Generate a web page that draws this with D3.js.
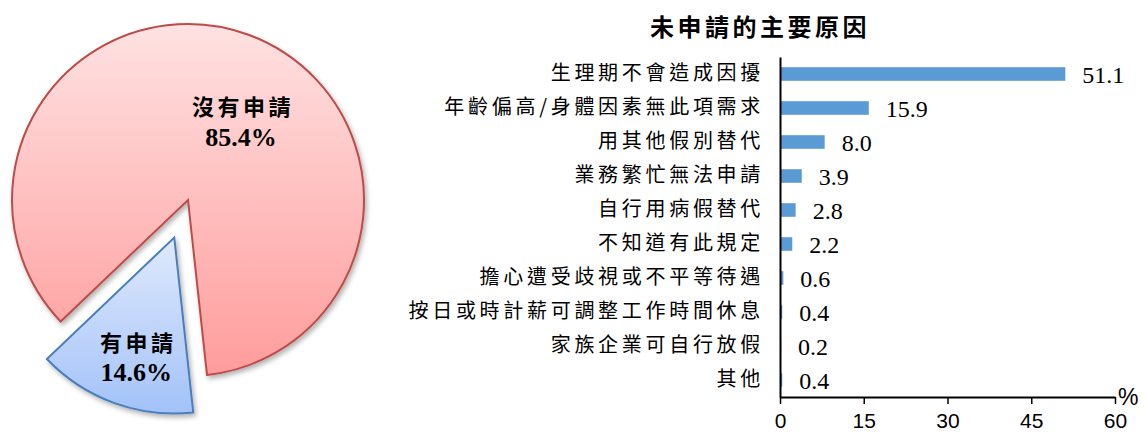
<!DOCTYPE html>
<html>
<head>
<meta charset="utf-8">
<script src="https://cdn.jsdelivr.net/npm/d3@7"></script>
<style>
  body { margin: 0; background: #fff; }
  svg { display: block; }
</style>
</head>
<body>
<div id="chart"></div>
<script>
// pie data
const pieLabels = ["有申請", "沒有申請"];
const pieValues = [14.6, 85.4];

// bar data: reasons for not applying
const reasons = [
    "生理期不會造成因擾",
    "年齡偏高/身體因素無此項需求",
    "用其他假別替代",
    "業務繁忙無法申請",
    "自行用病假替代",
    "不知道有此規定",
    "擔心遭受歧視或不平等待遇",
    "按日或時計薪可調整工作時間休息",
    "家族企業可自行放假",
    "其他"
];
const reasonValues = [51.1, 15.9, 8.0, 3.9, 2.8, 2.2, 0.6, 0.4, 0.2, 0.4];
const xTicks = [0, 15, 30, 45, 60];

const W = 1147, H = 437;
const cjk = "'Noto Sans CJK TC', 'Noto Sans CJK SC', sans-serif";
const serif = "'Liberation Serif', 'DejaVu Serif', serif";
const sans = "'Liberation Sans', Arial, sans-serif";

const svg = d3.select("#chart").append("svg")
    .attr("width", W).attr("height", H);

const defs = svg.append("defs");

function addGradient(id, top, bottom) {
    const g = defs.append("linearGradient").attr("id", id)
        .attr("x1", 0).attr("y1", 0).attr("x2", 0).attr("y2", 1);
    g.append("stop").attr("offset", "0%").attr("stop-color", top);
    g.append("stop").attr("offset", "100%").attr("stop-color", bottom);
}
addGradient("gradBlue", "#dfe9fc", "#a3c2f9");
addGradient("gradRed", "#ffe2e2", "#ff9c9c");

defs.append("filter").attr("id", "shadow")
    .attr("x", "-20%").attr("y", "-20%").attr("width", "140%").attr("height", "140%")
    .append("feDropShadow")
    .attr("dx", 2).attr("dy", 3).attr("stdDeviation", 2.5)
    .attr("flood-color", "#000").attr("flood-opacity", 0.3);

/* ---------- pie ---------- */
const pieCenter = {x: 188, y: 200};
const radius = 176;
const explode = [40, 0];
const startDeg = 173.8;

const pie = d3.pie().sort(null)
    .startAngle(startDeg * Math.PI / 180)
    .endAngle(startDeg * Math.PI / 180 + 2 * Math.PI);
const arc = d3.arc().innerRadius(0).outerRadius(radius);

const fills = ["url(#gradBlue)", "url(#gradRed)"];
const strokes = ["#4a7ebb", "#be4b48"];

// label placement: angle (deg, clockwise from top) and distance from slice vertex
const labelPlace = [{a: 197.7, r: 125}, {a: 33.9, r: 95}];

const arcs = pie(pieValues);
const pieG = svg.append("g").attr("transform", `translate(${pieCenter.x},${pieCenter.y})`);

const slices = pieG.selectAll("g.slice").data(arcs).enter().append("g")
    .attr("class", "slice")
    .attr("transform", (d, i) => {
        const mid = (d.startAngle + d.endAngle) / 2;
        const dx = Math.sin(mid) * explode[i], dy = -Math.cos(mid) * explode[i];
        return `translate(${dx},${dy})`;
    });

slices.append("path")
    .attr("d", arc)
    .attr("fill", (d, i) => fills[i])
    .attr("stroke", (d, i) => strokes[i])
    .attr("stroke-width", 2)
    .attr("filter", "url(#shadow)");

slices.each(function(d, i) {
    const p = labelPlace[i];
    const a = p.a * Math.PI / 180;
    const cx = Math.sin(a) * p.r, cy = -Math.cos(a) * p.r;
    const g = d3.select(this);
    g.append("text")
        .attr("x", cx + 2).attr("y", cy - 16)
        .attr("text-anchor", "middle")
        .attr("dominant-baseline", "central")
        .style("font-family", cjk).style("font-weight", "bold")
        .style("font-size", "22px").style("letter-spacing", "3.5px")
        .text(pieLabels[i]);
    g.append("text")
        .attr("x", cx).attr("y", cy + 16)
        .attr("text-anchor", "middle")
        .attr("dominant-baseline", "central")
        .style("font-family", serif).style("font-weight", "bold")
        .style("font-size", "26px")
        .text(d3.format(".1f")(pieValues[i]) + "%");
});

/* ---------- bar chart ---------- */
const plot = {left: 780, right: 1115, top: 57, bottom: 397};

const x = d3.scaleLinear().domain([0, 60]).range([plot.left, plot.right]);
const y = d3.scaleBand().domain(reasons).range([plot.top, plot.bottom])
    .paddingInner(0.6).paddingOuter(0.3);

svg.append("text")
    .attr("x", 760).attr("y", 25)
    .attr("text-anchor", "middle")
    .attr("dominant-baseline", "central")
    .style("font-family", cjk).style("font-weight", "bold")
    .style("font-size", "24px").style("letter-spacing", "3.5px")
    .text("未申請的主要原因");

svg.selectAll("rect.bar").data(reasonValues).enter().append("rect")
    .attr("class", "bar")
    .attr("x", x(0))
    .attr("y", (d, i) => y(reasons[i]))
    .attr("width", d => x(d) - x(0))
    .attr("height", y.bandwidth())
    .attr("fill", "#5b9bd5");

svg.selectAll("text.val").data(reasonValues).enter().append("text")
    .attr("class", "val")
    .attr("x", d => x(d) + 17)
    .attr("y", (d, i) => y(reasons[i]) + y.bandwidth() / 2 + 1)
    .attr("dominant-baseline", "central")
    .style("font-family", serif).style("font-size", "24px")
    .text(d => d3.format(".1f")(d));

// y axis with category labels
const yAxis = svg.append("g")
    .attr("transform", `translate(${plot.left},0)`)
    .call(d3.axisLeft(y).tickSize(0).tickPadding(16));
yAxis.select(".domain").attr("stroke", "#000").attr("stroke-width", 2);
yAxis.selectAll("text")
    .style("font-family", cjk).style("font-size", "20px")
    .style("letter-spacing", "3.7px").attr("fill", "#000");

// x axis
const xAxis = svg.append("g")
    .attr("transform", `translate(0,${plot.bottom})`)
    .call(d3.axisBottom(x).tickValues(xTicks).tickSize(7).tickSizeOuter(0).tickPadding(9));
xAxis.select(".domain").attr("stroke", "#000").attr("stroke-width", 2);
xAxis.selectAll(".tick line").attr("stroke", "#000").attr("stroke-width", 1.5);
xAxis.selectAll("text")
    .style("font-family", sans)
    .style("font-size", "21px").attr("fill", "#000");

svg.append("text")
    .attr("x", plot.right + 3).attr("y", plot.bottom + 8)
    .style("font-family", sans)
    .style("font-size", "23px")
    .text("%");
</script>
</body>
</html>
